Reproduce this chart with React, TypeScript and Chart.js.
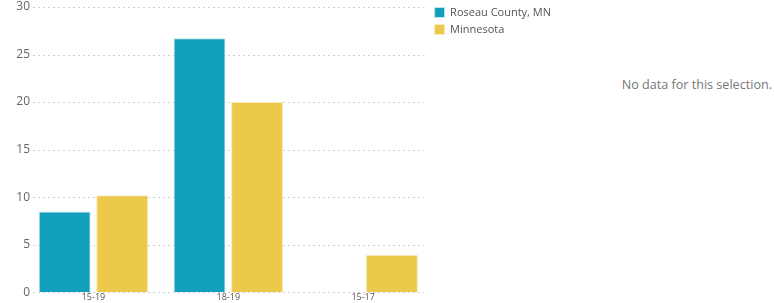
import React, { useEffect, useRef } from "react";
import { Chart, registerables } from "chart.js";

Chart.register(...registerables);

const categories = ["15-19", "18-19", "15-17"];
const roseauValues: (number | null)[] = [8.5, 26.7, null];
const minnesotaValues: (number | null)[] = [10.2, 20.0, 3.9];
const seriesNames = ["Roseau County, MN", "Minnesota"];
const yTicks = [0, 5, 10, 15, 20, 25, 30];

const gridAndLabels = {
  id: "gridAndLabels",
  afterLayout(chart: any) {
    if (chart.legend) {
      chart.legend.left -= 2;
      chart.legend.right -= 2;
      chart.legend.top -= 6;
      chart.legend.bottom -= 6;
    }
  },
  beforeDatasetsDraw(chart: any) {
    const { ctx, chartArea, scales } = chart;
    const y = scales.y;
    ctx.save();
    ctx.strokeStyle = "#d0d0d0";
    ctx.lineWidth = 1;
    ctx.setLineDash([2, 3]);
    for (const t of y.ticks) {
      const py = Math.round(y.getPixelForValue(t.value)) + 0.5;
      ctx.beginPath();
      ctx.moveTo(chartArea.left + 7, py);
      ctx.lineTo(chartArea.right - 6, py);
      ctx.stroke();
    }
    ctx.setLineDash([]);
    ctx.fillStyle = "#666";
    ctx.font = "12px 'Open Sans'";
    ctx.textAlign = "right";
    ctx.textBaseline = "middle";
    for (const t of y.ticks) {
      const py = y.getPixelForValue(t.value);
      ctx.fillText(String(t.value), chartArea.left + 4, py);
    }
    ctx.restore();
  },
};

export default function App() {
  const ref = useRef<HTMLCanvasElement | null>(null);
  useEffect(() => {
    document.body.style.margin = "0";
    const ctx = ref.current!;
    const chart = new Chart(ctx, {
      type: "bar",
      data: {
        labels: categories,
        datasets: [
          {
            label: seriesNames[0],
            data: roseauValues,
            backgroundColor: "#119fbb",
            borderColor: "#bfe6ee",
            borderWidth: 1,
            categoryPercentage: 0.853,
            barPercentage: 0.903,
          },
          {
            label: seriesNames[1],
            data: minnesotaValues,
            backgroundColor: "#ecc94a",
            borderColor: "#f7eab8",
            borderWidth: 1,
            categoryPercentage: 0.853,
            barPercentage: 0.903,
          },
        ],
      },
      plugins: [gridAndLabels],
      options: {
        animation: false,
        responsive: false,
        maintainAspectRatio: false,
        layout: { padding: { top: 7, bottom: 0, left: 6, right: 0 } },
        plugins: {
          tooltip: { enabled: false },
          legend: {
            position: "right",
            align: "start",
            labels: {
              boxWidth: 10,
              boxHeight: 10,
              padding: 6,
              color: "#555",
              font: { family: "Open Sans", size: 11 },
            },
          },
        },
        scales: {
          x: {
            grid: { display: false, drawTicks: false },
            border: { display: false },
            ticks: {
              color: "#555",
              font: { family: "Open Sans", size: 9 },
              padding: 0,
            },
          },
          y: {
            min: 0,
            max: 30,
            afterBuildTicks: (axis: any) => {
              axis.ticks = yTicks.map((v) => ({ value: v }));
            },
            afterFit: (axis: any) => {
              axis.width = 20;
            },
            grid: { display: false, drawTicks: false },
            border: { display: false },
            ticks: { display: false },
          },
        },
      },
    });
    return () => chart.destroy();
  }, []);
  return (
    <div style={{ position: "relative", width: 774, height: 303, fontFamily: "Open Sans" }}>
      <canvas ref={ref} width={563} height={303} style={{ position: "absolute", left: 0, top: 0 }} />
      <div
        style={{
          position: "absolute",
          right: 2,
          top: 76,
          fontSize: 12.6,
          color: "#777",
          fontFamily: "Open Sans",
        }}
      >
        No data for this selection.
      </div>
    </div>
  );
}
